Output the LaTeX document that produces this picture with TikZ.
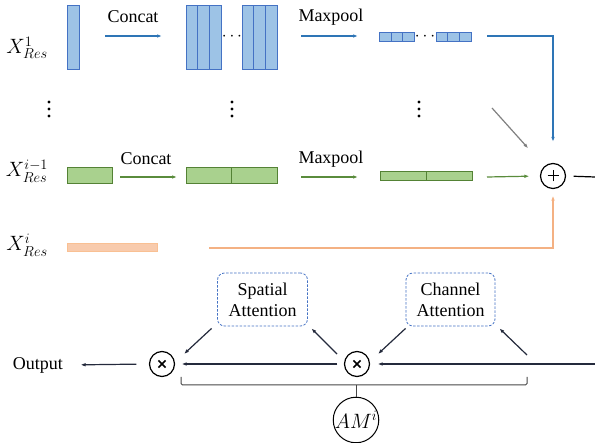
\documentclass[tikz,border=0pt]{standalone}
\usepackage{fontspec}
\setmainfont{Liberation Serif}
\usetikzlibrary{arrows.meta,calc}

\definecolor{cellblue}{RGB}{157,195,230}
\definecolor{edgeblue}{RGB}{68,114,196}
\definecolor{arrblue}{RGB}{46,117,182}
\definecolor{cellgreen}{RGB}{169,209,142}
\definecolor{edgegreen}{RGB}{84,130,53}
\definecolor{arrgreen}{RGB}{90,140,60}
\definecolor{cellorange}{RGB}{248,203,173}
\definecolor{lineorange}{RGB}{244,177,131}
\definecolor{inkgray}{RGB}{128,128,128}
\definecolor{navy}{RGB}{36,42,60}
\definecolor{bracegray}{RGB}{70,70,70}

\tikzset{
  every node/.style={font=\fontsize{18}{20}\selectfont},
  mathlabel/.style={font=\fontsize{20.74}{24}\selectfont},
  cellbase/.style={rectangle, inner sep=0pt, outer sep=0pt, line width=0.8pt},
  bcell/.style={cellbase, fill=cellblue, draw=edgeblue, minimum width=11.67pt},
  gcell/.style={cellbase, fill=cellgreen, draw=edgegreen},
  ocell/.style={cellbase, fill=cellorange, draw=cellorange!85!orange},
  tip/.style={-{Latex[length=5pt,width=3.6pt]}},
  blueline/.style={draw=arrblue, line width=1.2pt},
  greenline/.style={draw=arrgreen, line width=1.2pt},
  orangeline/.style={draw=lineorange, line width=1.2pt},
  grayline/.style={draw=inkgray, line width=1.2pt},
  darkline/.style={draw=navy, line width=1.2pt},
  opcircle/.style={circle, draw=black, line width=1.2pt, minimum size=25pt, inner sep=0pt},
  attbox/.style={rectangle, rounded corners=7pt, draw=edgeblue, line width=0.8pt,
    dash pattern=on 2.5pt off 1.5pt, align=center, minimum height=53pt,
    font=\fontsize{18}{21}\selectfont},
  vdot/.style={circle, fill=black, inner sep=0pt, minimum size=3.2pt},
}

\begin{document}
\begin{tikzpicture}[x=1pt,y=-1pt]
\useasboundingbox (0,0) rectangle (595,443);

% ---------- row labels ----------
\node[mathlabel] (lab1)  at (27,48)  {$X^{1}_{Res}$};
\node[mathlabel] (labm)  at (27,171) {$X^{i-1}_{Res}$};
\node[mathlabel] (labi)  at (27,245) {$X^{i}_{Res}$};

% ---------- first row (blue) ----------
\node[bcell, minimum width=12pt, minimum height=64pt] (b0) at (73,37) {};
\foreach \k/\x in {1/191.83,2/203.5,3/215.17}
  \node[bcell, minimum height=64pt] (ba\k) at (\x,37) {};
\node (bdots) at (232,37) {$\cdots$};
\foreach \k/\x in {1/247.83,2/259.5,3/271.17}
  \node[bcell, minimum height=64pt] (bb\k) at (\x,37) {};
\foreach \k/\x in {1/385.33,2/397,3/408.67}
  \node[bcell, minimum height=9pt] (pa\k) at (\x,36.5) {};
\node (pdots) at (425,36.5) {$\cdots$};
\foreach \k/\x in {1/441.83,2/453.5,3/465.17}
  \node[bcell, minimum height=9pt] (pb\k) at (\x,36.5) {};

\node (cc1) at (133,17) {Concat};
\node (mp1) at (331,17) {Maxpool};
\coordinate (c1s) at (105,36);
\coordinate (c1e) at (162,36);
\coordinate (m1s) at (301,36);
\coordinate (m1e) at (358,36);
\coordinate (b1s) at (487,36);
\draw[blueline, tip] (c1s) -- (c1e);
\draw[blueline, tip] (m1s) -- (m1e);

% ---------- vertical ellipses ----------
\foreach \x/\n in {49/a,232/b,419/c}{
  \node[vdot] (vd\n1) at (\x,102) {};
  \node[vdot] (vd\n2) at (\x,109) {};
  \node[vdot] (vd\n3) at (\x,116) {};
}

% ---------- second row (green) ----------
\node[gcell, minimum width=45pt, minimum height=16pt] (g0) at (89.5,175) {};
\node[gcell, minimum width=45.5pt, minimum height=16.5pt] (ga1) at (208.75,175.5) {};
\node[gcell, minimum width=45.5pt, minimum height=16.5pt] (ga2) at (254.25,175.5) {};
\node[gcell, minimum width=46pt, minimum height=9pt] (gp1) at (403,175.5) {};
\node[gcell, minimum width=46pt, minimum height=9pt] (gp2) at (449,175.5) {};

\node (cc2) at (146,159) {Concat};
\node (mp2) at (331,159) {Maxpool};
\coordinate (c2s) at (120,177);
\coordinate (c2e) at (177,177);
\coordinate (m2s) at (301,177);
\coordinate (m2e) at (358,177);
\coordinate (g2s) at (487,177);
\draw[greenline, tip] (c2s) -- (c2e);
\draw[greenline, tip] (m2s) -- (m2e);

% ---------- third row (orange) ----------
\node[ocell, minimum width=90pt, minimum height=8pt] (o0) at (112,247) {};
\coordinate (o2s) at (209,248);

% ---------- summation ----------
\node[opcircle, path picture={
    \draw[line width=1pt] ([xshift=-5.5pt]path picture bounding box.center) -- ([xshift=5.5pt]path picture bounding box.center);
    \draw[line width=1pt] ([yshift=-5.5pt]path picture bounding box.center) -- ([yshift=5.5pt]path picture bounding box.center);
  }] (sum) at (553,176) {};
\coordinate (gr0) at (492,108);
\coordinate (sumout) at (595,177);

\draw[blueline, tip, shorten >=21pt] (b1s) -| (sum.north);
\draw[grayline, tip, shorten >=24pt] (gr0) -- (sum);
\draw[greenline, tip, shorten >=10.5pt] (g2s) -- (sum.west);
\draw[orangeline, tip, shorten >=6.5pt] (o2s) -| (sum.south);
\draw[line width=1.2pt, shorten <=7.5pt] (sum.east) -- (sumout);

% ---------- attention module ----------
\node[attbox, minimum width=90pt] (spa) at (262.5,299.5) {Spatial\\Attention};
\node[attbox, minimum width=89pt] (cha) at (450.5,299.5) {Channel\\Attention};

\tikzset{mulmark/.style={path picture={
    \draw[line width=1.6pt] ([shift={(-3.6pt,-3.6pt)}]path picture bounding box.center) -- ([shift={(3.6pt,3.6pt)}]path picture bounding box.center);
    \draw[line width=1.6pt] ([shift={(-3.6pt,3.6pt)}]path picture bounding box.center) -- ([shift={(3.6pt,-3.6pt)}]path picture bounding box.center);
  }}}
\node[opcircle, mulmark] (mulL) at (162,364) {};
\node[opcircle, mulmark] (mulR) at (357,364) {};
\node (out) at (38,365) {Output};
\coordinate (inR) at (595,364);
\coordinate (tapR) at (527,355);

\draw[darkline, tip, shorten >=7.5pt] (inR) -- (mulR.east);
\draw[darkline, tip, shorten <=6.5pt, shorten >=6.5pt] (mulR.west) -- (mulL.east);
\draw[darkline, tip, shorten <=12.5pt, shorten >=14pt] (mulL.west) -- (out.east);

\draw[darkline, tip] ([shift={(-5.5,2)}]spa.south west) -- ([shift={(22,-10)}]mulL.center);
\draw[darkline, tip] ([shift={(-20,-10)}]mulR.center) -- ([shift={(3.5,2)}]spa.south east);
\draw[darkline, tip] ([shift={(0,2)}]cha.south west) -- ([shift={(21,-10)}]mulR.center);
\draw[darkline, tip] (tapR) -- ([shift={(4,2)}]cha.south east);

% ---------- bracket and module label ----------
\node[circle, draw=black, line width=1pt, minimum size=37pt, inner sep=0pt, mathlabel] (am) at (356,420) {$AM^{i}$};
\coordinate (brL) at (181,377);
\coordinate (brR) at (527,377);
\coordinate (brM) at (356,385);
\draw[draw=bracegray, line width=1pt, rounded corners=1.5pt] (brL) |- (brM) -| (brR);
\draw[draw=bracegray, line width=1pt] (brM) -- (am.north);
\end{tikzpicture}
\end{document}
